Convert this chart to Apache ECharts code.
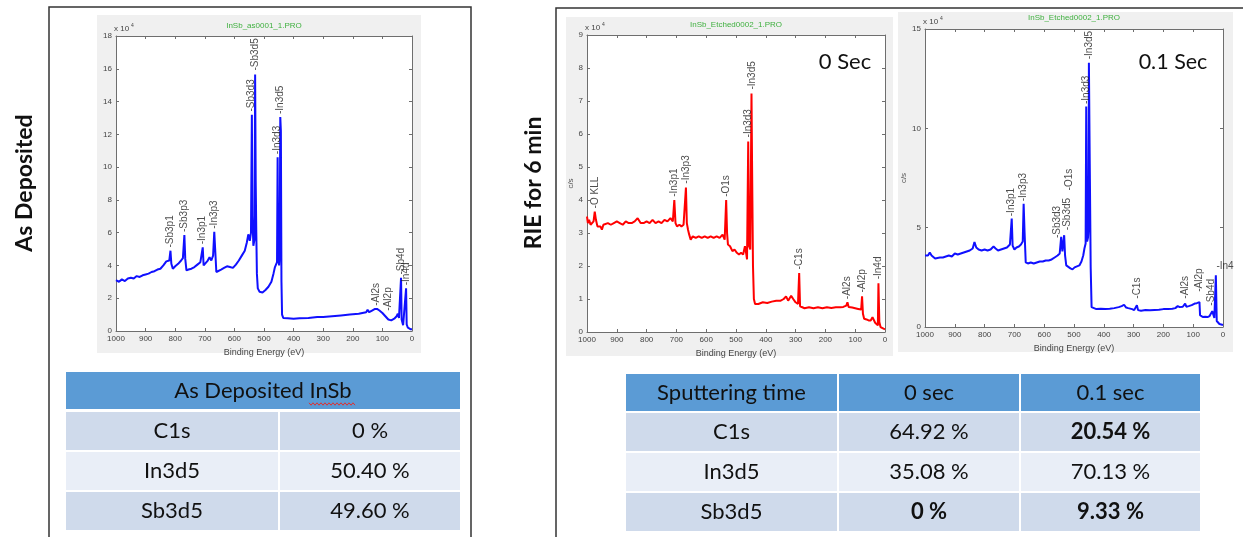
<!DOCTYPE html>
<html><head><meta charset="utf-8">
<script src="https://cdn.jsdelivr.net/npm/echarts/dist/echarts.min.js"></script>
<style>html,body{margin:0;padding:0;background:#fff}#c{width:1243px;height:537px}</style>
</head><body><div id="c"></div>
<script>
// ---------------- DATA (binding energy eV, counts x 10^4) ----------------
const asDeposited = [[1000,3.1],[990,3.0],[980,3.15],[970,3.05],[960,3.2],[950,3.25],[940,3.2],[930,3.35],[920,3.3],[910,3.4],[900,3.45],[890,3.5],[880,3.6],[870,3.65],[860,3.75],[850,3.8],[840,4.0],[830,4.25],[825,4.2],[820,4.3],[816,4.9],[813,4.1],[808,3.8],[800,3.95],[790,4.1],[780,4.3],[774,4.45],[769,5.85],[766,4.4],[762,3.7],[755,3.75],[745,3.8],[735,3.9],[725,4.05],[715,4.2],[710,4.1],[707,5.1],[704,4.0],[698,3.95],[690,4.3],[684,4.5],[678,4.3],[672,4.6],[668,6.05],[665,5.0],[661,3.6],[655,3.7],[645,3.75],[635,3.85],[625,3.95],[615,3.9],[605,3.85],[595,4.05],[585,4.3],[575,4.6],[565,4.9],[558,5.4],[553,5.9],[548,5.5],[544,6.0],[541,13.2],[539,7.0],[536,5.2],[532,5.6],[530,15.65],[528,9.1],[526,6.0],[524,3.5],[521,2.6],[515,2.4],[505,2.35],[495,2.5],[485,2.7],[475,3.0],[468,3.5],[463,3.9],[459,4.0],[456,4.2],[454,10.6],[452,4.5],[449,4.0],[447,4.6],[445,13.05],[443,12.2],[441,3.0],[439,1.0],[435,0.8],[420,0.78],[400,0.75],[380,0.78],[350,0.8],[320,0.85],[300,0.85],[270,0.9],[240,0.95],[210,1.0],[180,1.05],[155,1.15],[150,1.3],[145,1.15],[135,1.25],[125,1.35],[118,1.35],[110,1.25],[100,1.1],[90,0.9],[80,0.7],[70,0.65],[60,0.75],[52,0.9],[48,1.05],[44,0.8],[40,0.7],[37,3.25],[35,0.7],[30,0.35],[25,0.3],[20,2.6],[18,0.4],[14,0.2],[8,0.15],[4,0.1],[0,0.1]];

const etched0s = [[1000,3.5],[997,3.3],[993,3.4],[988,3.25],[983,3.3],[978,3.35],[974,3.65],[970,3.4],[965,3.2],[960,3.15],[955,3.2],[950,3.1],[945,3.25],[940,3.2],[930,3.3],[920,3.25],[910,3.3],[900,3.35],[890,3.3],[880,3.25],[870,3.35],[860,3.3],[850,3.3],[840,3.35],[830,3.45],[820,3.3],[810,3.3],[800,3.35],[790,3.3],[780,3.4],[770,3.3],[760,3.35],[750,3.3],[740,3.4],[730,3.35],[720,3.45],[712,3.35],[707,4.0],[703,3.3],[698,3.2],[690,3.25],[683,3.2],[676,3.25],[671,3.3],[668,4.38],[665,3.3],[661,3.1],[657,2.95],[652,2.8],[645,2.9],[635,2.85],[625,2.9],[615,2.85],[605,2.9],[595,2.85],[585,2.9],[575,2.85],[565,2.9],[555,2.85],[545,2.95],[538,2.8],[533,4.0],[530,3.0],[527,2.65],[520,2.6],[512,2.45],[505,2.5],[497,2.4],[490,2.35],[483,2.4],[476,2.35],[470,2.6],[467,2.45],[463,2.2],[459,5.77],[456,2.6],[452,2.5],[448,7.23],[446,5.0],[443,2.0],[440,1.0],[436,0.85],[425,0.85],[410,0.9],[395,0.88],[380,0.92],[365,0.95],[350,0.95],[340,1.0],[332,1.08],[325,0.95],[315,1.1],[308,1.0],[300,0.9],[292,0.85],[288,1.79],[285,0.78],[280,0.72],[270,0.72],[255,0.75],[240,0.72],[225,0.75],[210,0.72],[195,0.75],[180,0.73],[165,0.75],[150,0.75],[140,0.76],[130,0.8],[126,0.9],[122,0.76],[110,0.74],[100,0.72],[90,0.7],[80,0.68],[77,1.08],[74,0.55],[70,0.4],[62,0.38],[55,0.35],[48,0.35],[42,0.45],[38,0.4],[33,0.28],[28,0.25],[24,0.2],[22,1.48],[19,0.3],[15,0.15],[10,0.12],[5,0.1],[0,0.08]];

const etched01s = [[1000,3.6],[995,3.7],[990,3.6],[984,3.75],[978,3.6],[972,3.5],[966,3.45],[960,3.55],[950,3.5],[940,3.5],[930,3.55],[920,3.6],[910,3.55],[900,3.7],[890,3.65],[880,3.7],[870,3.75],[860,3.8],[850,3.85],[840,3.95],[834,4.28],[828,4.0],[820,3.9],[810,3.85],[800,3.9],[790,3.85],[780,3.9],[770,4.05],[763,3.95],[755,3.85],[745,3.9],[735,3.95],[725,4.0],[715,4.15],[712,4.05],[709,5.46],[706,4.1],[700,3.9],[693,4.0],[685,4.05],[678,4.15],[672,4.3],[669,6.2],[666,4.8],[662,3.25],[655,3.2],[645,3.25],[635,3.2],[625,3.25],[615,3.3],[605,3.3],[595,3.35],[585,3.35],[575,3.4],[565,3.5],[555,3.6],[548,3.7],[543,4.54],[539,3.8],[536,3.9],[533,4.62],[530,3.6],[526,3.1],[520,3.0],[512,2.95],[505,2.9],[498,3.0],[490,3.05],[482,3.1],[475,3.3],[469,3.6],[465,3.95],[461,4.2],[459,11.1],[456,4.3],[453,4.5],[451,5.0],[450,13.3],[448,9.7],[446,9.7],[444,3.0],[441,1.0],[437,0.9],[425,0.9],[410,0.92],[395,0.9],[380,0.92],[365,0.95],[350,1.0],[340,1.05],[332,1.12],[325,0.98],[318,0.95],[312,1.05],[305,0.9],[298,0.85],[292,0.88],[289,1.1],[285,0.85],[275,0.82],[260,0.85],[245,0.84],[230,0.86],[215,0.87],[200,0.9],[185,0.9],[170,0.92],[160,0.95],[152,1.05],[145,1.0],[135,1.02],[130,1.1],[127,1.18],[123,1.02],[115,1.05],[105,1.1],[95,1.18],[88,1.2],[82,1.25],[79,1.25],[77,0.6],[74,0.55],[68,0.5],[60,0.52],[52,0.5],[45,0.55],[40,0.65],[36,0.8],[33,0.7],[29,0.45],[26,0.4],[24,2.6],[21,0.3],[17,0.2],[12,0.15],[6,0.12],[0,0.1]];

// peak labels: [name, binding energy, label base value]
const asDepLabels = [['Sb3p1',816,5.0],['Sb3p3',769,5.95],['In3p1',707,5.2],['In3p3',668,6.15],['Sb3d3',543,13.3],['Sb3d5',530,15.8],['In3d3',456,10.7],['In3d5',444,13.15],['Al2s',121,1.45],['Al2p',80,1.15],['Sb4d',38,3.35],['In4d',20,2.7]];
const etch0Labels = [['O KLL',972,3.7],['In3p1',706,4.05],['In3p3',668,4.45],['O1s',532,4.05],['In3d3',460,5.85],['In3d5',447,7.3],['C1s',288,1.85],['Al2s',126,0.95],['Al2p',76,1.15],['In4d',22,1.55]];
const etch01Labels = [['In3p1',709,5.5],['In3p3',669,6.25],['Sb3d3',556,4.4],['Sb3d5',521,4.8],['O1s',517,6.8],['In3d3',460,11.15],['In3d5',450,13.4],['C1s',289,1.35],['Al2s',127,1.35],['Al2p',80,1.7],['Sb4d',38,1.0]];
const etch01FlatLabels = [['In4',22,2.75]];

const fileTitles = ['InSb_as0001_1.PRO','InSb_Etched0002_1.PRO','InSb_Etched0002_1.PRO'];
const yMax = [18, 9, 15];
const yStep = [2, 1, 5];
const xTicks = {min:0, max:1000, step:100};

// tables
const leftTableTitle = 'As Deposited InSb';
const leftTableRows = [['C1s','0 %'],['In3d5','50.40 %'],['Sb3d5','49.60 %']];
const rightTableHeader = ['Sputtering time','0 sec','0.1 sec'];
const rightTableRows = [['C1s','64.92 %','20.54 %'],['In3d5','35.08 %','70.13 %'],['Sb3d5','0 %','9.33 %']];
const rightTableBold = [[false,false,true],[false,false,false],[false,true,true]];

// ---------------- LAYOUT ----------------
const grids = [
  {left:116, top:36, width:296, height:295},
  {left:587, top:35, width:298, height:297},
  {left:925, top:29, width:298, height:298}
];
const frames = [
  {x:97, y:15, w:324, h:338},
  {x:566, y:17, w:327, h:339},
  {x:898, y:12, w:335, h:340}
];
const FONT = 'Liberation Sans, Arial, sans-serif';
const CAL = 'Lato, "Open Sans", sans-serif';
const axisCol = '#6e6e6e';

const chart = echarts.init(document.getElementById('c'), null, {renderer:'canvas'});

const xAxes = [], yAxes = [], series = [];
grids.forEach((g, i) => {
  const common = {gridIndex:i, type:'value', splitLine:{show:false},
    axisLine:{show:true, onZero:false, lineStyle:{color:axisCol, width:1}},
    axisTick:{show:true, inside:true, length:3, lineStyle:{color:axisCol}}};
  xAxes.push(Object.assign({}, common, {position:'bottom', min:xTicks.min, max:xTicks.max, interval:xTicks.step, inverse:true,
    axisLabel:{fontSize:8, color:'#444', margin:4, fontFamily:FONT, showMinLabel:true, showMaxLabel:true, formatter:v => String(v)},
    name:'Binding Energy (eV)', nameLocation:'middle', nameGap:12, nameTextStyle:{fontSize:9, color:'#444', fontFamily:FONT}}));
  xAxes.push(Object.assign({}, common, {position:'top', min:xTicks.min, max:xTicks.max, interval:xTicks.step, inverse:true, axisLabel:{show:false}}));
  const yl = Object.assign({}, common, {position:'left', min:0, max:yMax[i], interval:yStep[i],
    axisLabel:{fontSize:8, color:'#444', margin:4, fontFamily:FONT, formatter:v => String(v)}});
  if (i > 0) Object.assign(yl, {name:'c/s', nameLocation:'middle', nameGap: i===1 ? 12 : 16, nameRotate:90, nameTextStyle:{fontSize:8, color:'#555', fontFamily:FONT}});
  yAxes.push(yl);
  yAxes.push(Object.assign({}, common, {position:'right', min:0, max:yMax[i], interval:yStep[i], axisLabel:{show:false}}));
});

const spectra = [asDeposited, etched0s, etched01s];
const colors = ['#1010ff', '#ff0000', '#1010ff'];
const labelSets = [asDepLabels, etch0Labels, etch01Labels];
spectra.forEach((d, i) => {
  series.push({type:'line', xAxisIndex:2*i, yAxisIndex:2*i, data:d, showSymbol:false, symbol:'none',
    lineStyle:{color:colors[i], width:2}, silent:true, z:3, animation:false});
  series.push({type:'scatter', xAxisIndex:2*i, yAxisIndex:2*i, symbolSize:1, itemStyle:{color:'rgba(0,0,0,0)'},
    data:labelSets[i].map(l => ({name:l[0], value:[l[1], l[2]]})), z:4, silent:true, animation:false,
    label:{show:true, formatter:'-{b}', position:'top', distance:1, rotate:90, align:'left', verticalAlign:'middle',
      fontSize:10, color:'#222', fontFamily:FONT}});
});
series.push({type:'scatter', xAxisIndex:4, yAxisIndex:4, symbolSize:1, itemStyle:{color:'rgba(0,0,0,0)'},
  data:etch01FlatLabels.map(l => ({name:l[0], value:[l[1], l[2]]})), z:4, silent:true, animation:false,
  label:{show:true, formatter:'-{b}', position:'top', distance:1, align:'left', verticalAlign:'bottom', fontSize:10, color:'#222', fontFamily:FONT}});

// ---------------- GRAPHICS ----------------
const gfx = [];
// panel borders
gfx.push({type:'rect', shape:{x:49, y:7, width:422, height:560}, style:{fill:null, stroke:'#333', lineWidth:1.5}, z:-5});
gfx.push({type:'rect', shape:{x:556, y:8, width:720, height:560}, style:{fill:null, stroke:'#333', lineWidth:1.5}, z:-5});
// figure backgrounds
frames.forEach(f => gfx.push({type:'rect', shape:{x:f.x, y:f.y, width:f.w, height:f.h}, style:{fill:'#f0f0f0'}, z:-4}));
// figure titles and exponent markers
grids.forEach((g, i) => {
  gfx.push({type:'text', x:g.left + g.width/2, y:g.top - 10 - (i===2 ? 1 : 0), style:{text:fileTitles[i], fill:'#3fb03f', fontSize:8, fontFamily:FONT, align:'center', verticalAlign:'middle'}, z:5});
  gfx.push({type:'text', x:g.left - 2, y:g.top - 3, style:{text:'x 10', fill:'#444', fontSize:8, fontFamily:FONT, align:'left', verticalAlign:'bottom'}, z:5});
  gfx.push({type:'text', x:g.left + 15, y:g.top - 8, style:{text:'4', fill:'#444', fontSize:5, fontFamily:FONT, align:'left', verticalAlign:'bottom'}, z:5});
});
// time annotations
gfx.push({type:'text', x:845, y:62, style:{text:'0 Sec', fill:'#111', fontSize:22, fontFamily:CAL, align:'center', verticalAlign:'middle'}, z:6});
gfx.push({type:'text', x:1173, y:62, style:{text:'0.1 Sec', fill:'#111', fontSize:21.5, fontFamily:CAL, align:'center', verticalAlign:'middle'}, z:6});
// rotated titles
gfx.push({type:'text', x:25, y:183, rotation:Math.PI/2, style:{text:'As Deposited', fill:'#111', fontSize:23, fontWeight:'bold', fontFamily:CAL, align:'center', verticalAlign:'middle'}, z:6});
gfx.push({type:'text', x:534, y:183, rotation:Math.PI/2, style:{text:'RIE for 6 min', fill:'#111', fontSize:23, fontWeight:'bold', fontFamily:CAL, align:'center', verticalAlign:'middle'}, z:6});

const HEAD = '#5b9bd5', ROW_D = '#cfdaeb', ROW_L = '#e9eef7';
function cell(x0, x1, y0, y1, fill, text, bold) {
  gfx.push({type:'rect', shape:{x:x0+1, y:y0+1, width:x1-x0-2, height:y1-y0-2}, style:{fill:fill}, z:1});
  gfx.push({type:'text', x:(x0+x1)/2, y:(y0+y1)/2, style:{text:text, fill:'#111', fontSize:22, fontWeight:bold?'bold':'normal', fontFamily:CAL, align:'center', verticalAlign:'middle'}, z:2});
}
// left table
cell(65, 461, 371, 410, HEAD, leftTableTitle, false);
const lCols = [65, 279, 461];
leftTableRows.forEach((r, k) => {
  const y0 = 411 + k*40;
  r.forEach((t, j) => cell(lCols[j], lCols[j+1], y0, y0+40, k%2===0 ? ROW_D : ROW_L, t, false));
});
// wavy underline
const wave = [];
for (let xx = 309, s = 0; xx <= 355; xx += 2, s++) wave.push([xx, 404 + (s%2 ? 1.2 : -1.2)]);
gfx.push({type:'polyline', shape:{points:wave}, style:{stroke:'#e03030', lineWidth:1, fill:null}, z:3});
// right table
const rCols = [625, 838, 1020, 1201];
rightTableHeader.forEach((t, j) => cell(rCols[j], rCols[j+1], 373, 412, HEAD, t, false));
rightTableRows.forEach((r, k) => {
  const y0 = 412 + k*40;
  r.forEach((t, j) => cell(rCols[j], rCols[j+1], y0, y0+40, k%2===0 ? ROW_D : ROW_L, t, rightTableBold[k][j]));
});

chart.setOption({
  animation:false,
  backgroundColor:'#ffffff',
  grid: grids.map(g => Object.assign({show:true, backgroundColor:'#ffffff', borderWidth:0, containLabel:false}, g)),
  xAxis:xAxes, yAxis:yAxes, series:series,
  graphic:{elements:gfx}
});
</script></body></html>
